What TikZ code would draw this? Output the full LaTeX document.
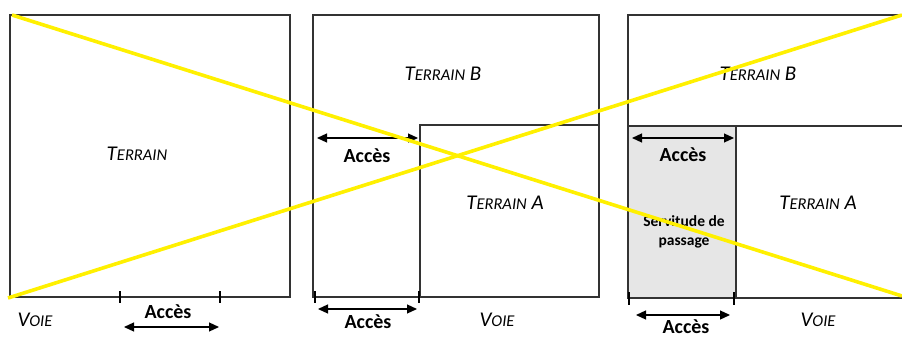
\documentclass[tikz,border=0pt]{standalone}
\usepackage{fontspec}
\setmainfont{Carlito}
\usetikzlibrary{arrows.meta}
\definecolor{crossyel}{RGB}{255,240,0}
\definecolor{grisserv}{RGB}{230,230,230}
\newcommand\petitcap[1]{{\fontsize{16.5}{16.5}\selectfont #1}}
\begin{document}
\begin{tikzpicture}[x=1pt,y=-1pt,
  lot/.style={draw=black!80,line width=1.2pt},
  tickmark/.style={line width=2.6pt},
  dimline/.style={line width=1.2pt,{Triangle[length=10pt,width=9pt]}-{Triangle[length=10pt,width=9pt]}},
  lbl/.style={font=\itshape\fontsize{21}{21}\selectfont,inner sep=0pt},
  acc/.style={font=\bfseries\fontsize{20}{20}\selectfont,inner sep=0pt},
  serv/.style={font=\bfseries\fontsize{15.5}{19}\selectfont,inner sep=0pt,align=center},
  crossline/.style={draw=crossyel,line width=3.6pt}]
\useasboundingbox (0,0) rectangle (902,340);

% ---------- Panel 1 ----------
\draw[lot] (10,15) rectangle (290,297);
\draw[tickmark] (120,291) -- (120,303);
\draw[tickmark] (220,291) -- (220,303);
\coordinate (p1l) at (124,327);
\coordinate (p1r) at (219,327);
\draw[dimline] (p1l) -- (p1r);
\node[acc] (p1acc) at (168,312) {Accès};
\node[lbl] (p1voie) at (35,320) {V\petitcap{OIE}};
\node[lbl] (p1terr) at (137,154) {T\petitcap{ERRAIN}};

% ---------- Panel 2 ----------
\draw[lot] (313,15) rectangle (599,297);
\draw[lot] (420,297) -- (420,125) -- (599,125);
\draw[tickmark] (315,291) -- (315,303);
\draw[tickmark] (419,291) -- (419,303);
\coordinate (p2bl) at (318,309);
\coordinate (p2br) at (417,309);
\draw[dimline] (p2bl) -- (p2br);
\node[acc] (p2acc) at (368,322) {Accès};
\coordinate (p2tl) at (317,138);
\coordinate (p2tr) at (418,138);
\draw[dimline] (p2tl) -- (p2tr);
\node[acc] (p2acct) at (367,156) {Accès};
\node[lbl] (p2voie) at (497,320) {V\petitcap{OIE}};
\node[lbl] (p2tb) at (443,74) {T\petitcap{ERRAIN} B};
\node[lbl] (p2ta) at (505,203) {T\petitcap{ERRAIN} A};

% ---------- Panel 3 ----------
\fill[grisserv] (628,126) rectangle (736,298);
\draw[lot] (902,15) -- (628,15) -- (628,298) -- (902,298);
\draw[lot] (628,126) -- (902,126);
\draw[lot] (736,126) -- (736,298);
\draw[tickmark] (629,292) -- (629,305);
\draw[tickmark] (734,292) -- (734,305);
\coordinate (p3tl) at (632,138);
\coordinate (p3tr) at (734,138);
\draw[dimline] (p3tl) -- (p3tr);
\node[acc] (p3acct) at (683,155) {Accès};
\node[serv] (p3serv) at (684,232) {Servitude de\\passage};
\coordinate (p3bl) at (636,315);
\coordinate (p3br) at (730,315);
\draw[dimline] (p3bl) -- (p3br);
\node[acc] (p3acc) at (686,327) {Accès};
\node[lbl] (p3voie) at (818,320) {V\petitcap{OIE}};
\node[lbl] (p3tb) at (758,74) {T\petitcap{ERRAIN} B};
\node[lbl] (p3ta) at (818,203) {T\petitcap{ERRAIN} A};

% ---------- Yellow cross ----------
\coordinate (ytl) at (12,15);
\coordinate (ybr) at (902,296);
\coordinate (ybl) at (8,298);
\coordinate (ytr) at (902,15);
\draw[crossline] (ytl) -- (ybr);
\draw[crossline] (ybl) -- (ytr);
\end{tikzpicture}
\end{document}
